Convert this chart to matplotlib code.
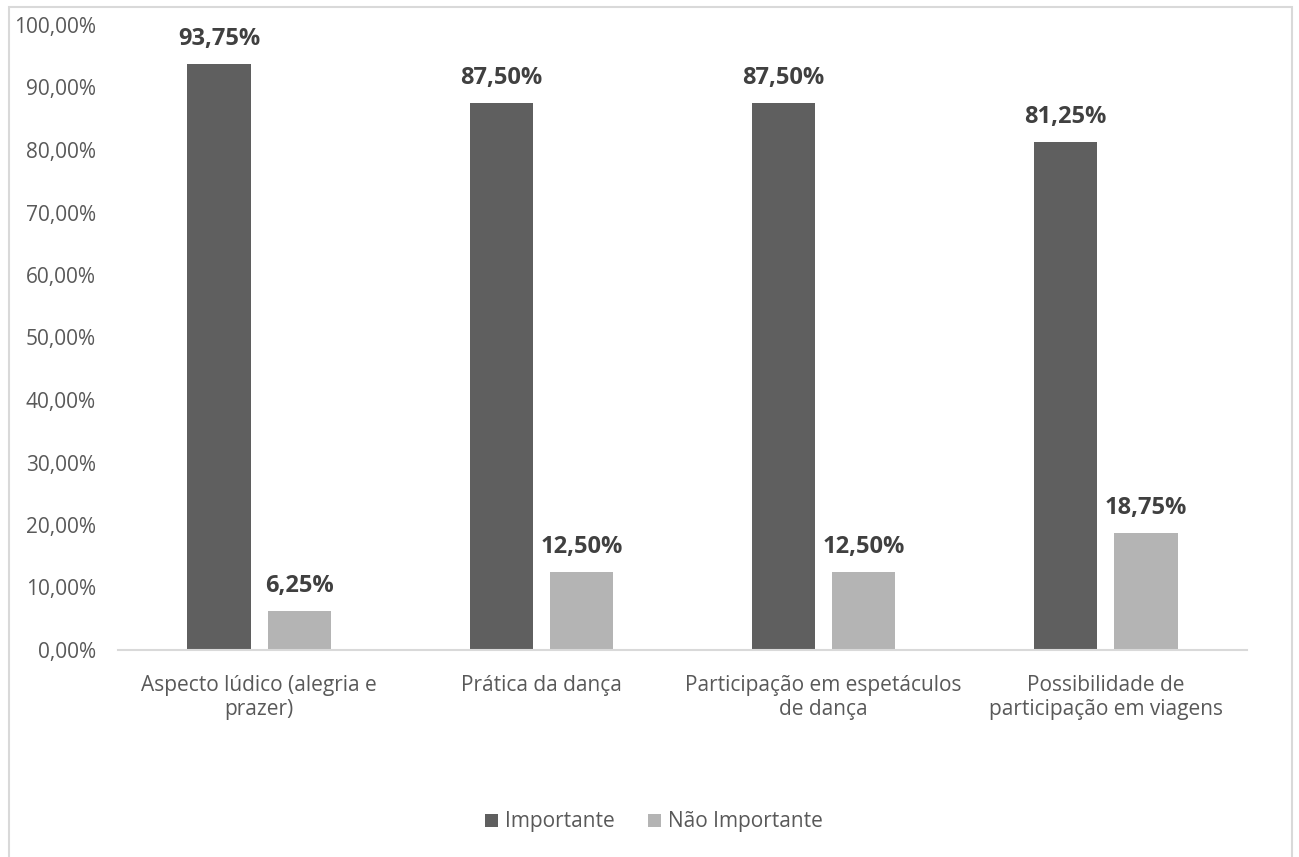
import matplotlib.pyplot as plt
import numpy as np
from matplotlib.patches import Rectangle

categorias = ["Aspecto lúdico (alegria e\nprazer)", "Prática da dança",
              "Participação em espetáculos\nde dança", "Possibilidade de\nparticipação em viagens"]
importante = [93.75, 87.50, 87.50, 81.25]
nao_importante = [6.25, 12.50, 12.50, 18.75]
series = ["Importante", "Não Importante"]
yticks = [0, 10, 20, 30, 40, 50, 60, 70, 80, 90, 100]

plt.rcParams['font.family'] = ['Open Sans', 'DejaVu Sans']
txt = "#595959"
cor_escura = "#5f5f5f"
cor_clara = "#b4b4b4"

fig = plt.figure(figsize=(12.99, 8.57), dpi=100)
# borda do gráfico
fig.patches.append(Rectangle((9 / 1299, -0.01), (1292 - 9) / 1299, 1 - 7 / 857 + 0.01,
                             transform=fig.transFigure, fill=False, edgecolor="#d9d9d9", lw=1.5))

ax = fig.add_axes([118 / 1299, 1 - 650 / 857, (1247 - 118) / 1299, (650 - 25) / 857])
x = np.arange(len(categorias))
w = 0.224
off = 0.142
b1 = ax.bar(x - off, importante, w, color=cor_escura, label=series[0])
b2 = ax.bar(x + off, nao_importante, w, color=cor_clara, label=series[1])

for bars, vals in [(b1, importante), (b2, nao_importante)]:
    for b, v in zip(bars, vals):
        ax.annotate(f"{v:.2f}%".replace(".", ","), (b.get_x() + b.get_width() / 2, v),
                    xytext=(0, 18), textcoords="offset points", ha="center", va="center",
                    fontsize=17, fontweight="bold", color="#404040")

ax.set_xlim(-0.5, len(categorias) - 0.5)
ax.set_ylim(0, 100)
ax.set_yticks(yticks)
ax.set_yticklabels([f"{t:.2f}%".replace(".", ",") for t in yticks])
ax.set_xticks(x)
ax.set_xticklabels(categorias, linespacing=1.2)
ax.tick_params(axis="both", length=0, labelsize=15, colors=txt)
ax.tick_params(axis="y", pad=16)
ax.tick_params(axis="x", pad=18)
for s in ["top", "right", "left"]:
    ax.spines[s].set_visible(False)
ax.spines["bottom"].set_color("#d9d9d9")
ax.spines["bottom"].set_linewidth(1.5)

leg = fig.legend(loc="center", bbox_to_anchor=(654 / 1299, 1 - 822 / 857), ncol=2, frameon=False,
                 fontsize=15, handlelength=0.6, handleheight=0.6, handletextpad=0.35,
                 columnspacing=1.6)
for t in leg.get_texts():
    t.set_color(txt)

fig.savefig("out.png", dpi=100)
